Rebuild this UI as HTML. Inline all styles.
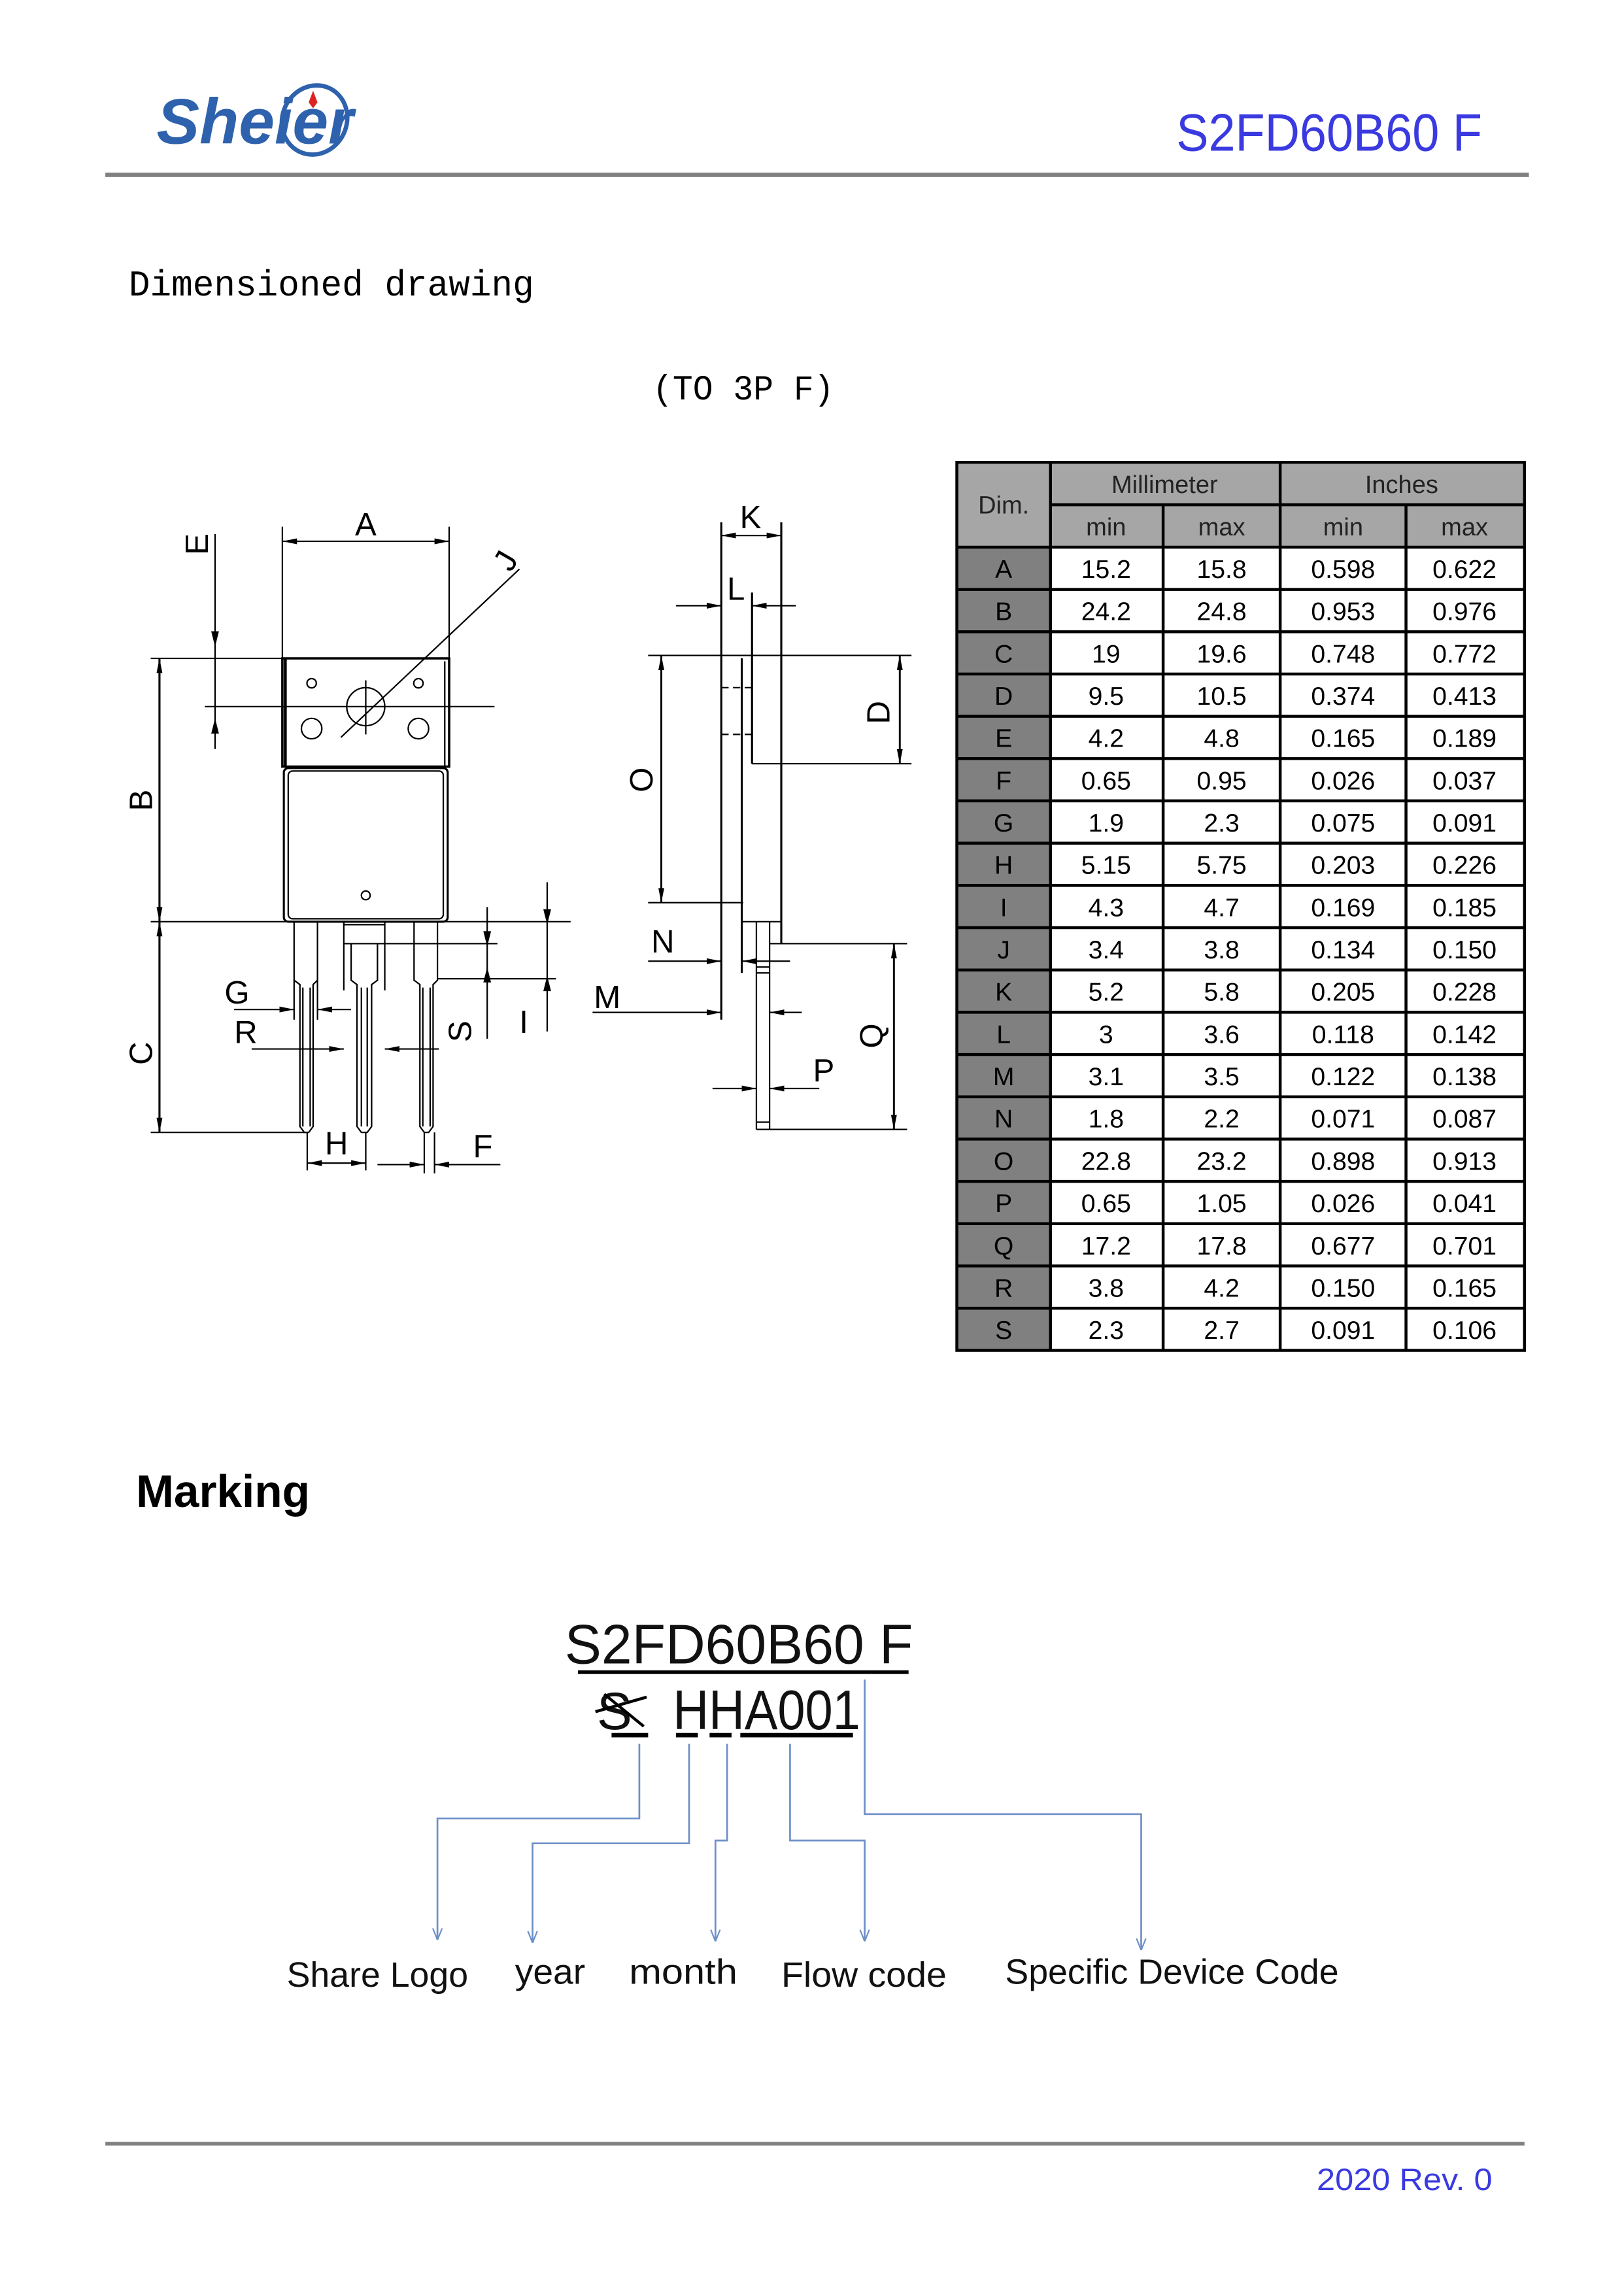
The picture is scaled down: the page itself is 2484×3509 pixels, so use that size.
<!DOCTYPE html>
<html><head><meta charset="utf-8"><style>
html,body{margin:0;padding:0;background:#fff}
svg{display:block}
</style></head><body>
<svg width="2484" height="3509" viewBox="0 0 1110 1568" xmlns="http://www.w3.org/2000/svg">
<defs>
<marker id="a" viewBox="0 0 10 6" refX="10" refY="3" markerWidth="10" markerHeight="6" markerUnits="userSpaceOnUse" orient="auto-start-reverse"><path d="M0,1 L10,3 L0,5 z" fill="#000"/></marker>
<marker id="b" viewBox="0 0 10 10" refX="10" refY="5" markerWidth="8" markerHeight="8" markerUnits="userSpaceOnUse" orient="auto"><path d="M0,1 L10,5 L0,9" fill="none" stroke="#6d8fc7" stroke-width="1.2"/></marker>
</defs>
<!-- header -->
<text x="107" y="98" font-family="Liberation Sans, sans-serif" font-weight="bold" font-style="italic" font-size="44" fill="#2e62ad">Sheier</text>
<ellipse cx="215" cy="82" rx="22" ry="24" fill="none" stroke="#2e62ad" stroke-width="3" transform="rotate(25 215 82)"/>
<path d="M214,62 l3,8 l-3,4 l-3,-4z" fill="#d22"/>
<text x="804" y="103" font-family="Liberation Sans, sans-serif" font-size="36" fill="#3a3ae0" textLength="209" lengthAdjust="spacingAndGlyphs">S2FD60B60 F</text>
<rect x="72" y="118" width="973" height="3" fill="#808080"/>
<text x="88" y="202" font-family="Liberation Mono, monospace" font-size="25" fill="#000" textLength="277" lengthAdjust="spacingAndGlyphs">Dimensioned drawing</text>
<text x="446" y="273" font-family="Liberation Mono, monospace" font-size="24" fill="#000" textLength="124" lengthAdjust="spacingAndGlyphs">(TO 3P F)</text>

<!-- left drawing -->
<g fill="none" stroke="#000" stroke-width="1" font-family="Liberation Sans, sans-serif">
<line x1="193" y1="360" x2="193" y2="450"/><line x1="307" y1="360" x2="307" y2="450"/>
<line x1="193" y1="370" x2="307" y2="370" marker-start="url(#a)" marker-end="url(#a)"/>
<rect x="193" y="450" width="114" height="74" stroke-width="1.6"/>
<line x1="195" y1="450" x2="195" y2="524" stroke-width="2"/>
<line x1="304" y1="452" x2="304" y2="524"/>
<rect x="194" y="525" width="112" height="105" rx="3" stroke-width="1.4"/>
<rect x="197" y="527" width="106" height="101" rx="3"/>
<circle cx="213" cy="467" r="3.2"/><circle cx="286" cy="467" r="3.2"/>
<circle cx="213" cy="498" r="7"/><circle cx="286" cy="498" r="7"/>
<circle cx="250" cy="483" r="13"/>
<line x1="250" y1="465" x2="250" y2="502"/>
<line x1="140" y1="483" x2="338" y2="483"/>
<line x1="233" y1="504" x2="355" y2="389"/>
<circle cx="250" cy="612" r="3"/>
<line x1="147" y1="365" x2="147" y2="512"/>
<path d="M147,440 l-2,-8 h4z M147,493 l-2,8 h4z" fill="#000"/>
<line x1="103" y1="450" x2="193" y2="450"/>
<line x1="109" y1="450" x2="109" y2="630" marker-start="url(#a)" marker-end="url(#a)" stroke-width="1.4"/>
<line x1="109" y1="630" x2="109" y2="774" marker-start="url(#a)" marker-end="url(#a)" stroke-width="1.4"/>
<line x1="103" y1="630" x2="390" y2="630"/>
<line x1="103" y1="774" x2="210" y2="774"/>
<path d="M201,630 V670 L205,673 V770 L208,774 H211 L214,770 V673 L217,670 V630"/>
<line x1="207" y1="675" x2="207" y2="770"/><line x1="212" y1="675" x2="212" y2="770"/>
<path d="M235,630 V677 M263,630 V677 M235,645 H263 M235,632 H263"/>
<path d="M240,645 V670 L244,673 V770 L247,774 H251 L254,770 V673 L258,670 V645"/>
<line x1="247" y1="675" x2="247" y2="770"/><line x1="251" y1="675" x2="251" y2="770"/>
<path d="M283,630 V670 L287,673 V770 L290,774 H293 L296,770 V673 L299,670 V630"/>
<line x1="289" y1="675" x2="289" y2="770"/><line x1="294" y1="675" x2="294" y2="770"/>
<path d="M263,645 H340 M299,669 H380"/>
<line x1="160" y1="690" x2="201" y2="690" marker-end="url(#a)"/>
<line x1="240" y1="690" x2="217" y2="690" marker-end="url(#a)"/>
<line x1="172" y1="717" x2="235" y2="717" marker-end="url(#a)"/>
<line x1="300" y1="717" x2="263" y2="717" marker-end="url(#a)"/>
<line x1="201" y1="670" x2="201" y2="697"/><line x1="217" y1="670" x2="217" y2="697"/>
<line x1="333" y1="620" x2="333" y2="710"/>
<path d="M333,645 l-2,-8 h4z M333,663 l-2,8 h4z" fill="#000"/>
<line x1="374" y1="603" x2="374" y2="705"/>
<path d="M374,630 l-2,-8 h4z M374,669 l-2,8 h4z" fill="#000"/>
<line x1="210" y1="774" x2="210" y2="800"/><line x1="250" y1="774" x2="250" y2="800"/>
<line x1="210" y1="795" x2="250" y2="795" marker-start="url(#a)" marker-end="url(#a)"/>
<line x1="258" y1="796" x2="290" y2="796" marker-end="url(#a)"/>
<line x1="342" y1="796" x2="297" y2="796" marker-end="url(#a)"/>
<line x1="290" y1="774" x2="290" y2="802"/><line x1="297" y1="774" x2="297" y2="802"/>
</g>
<g font-family="Liberation Sans, sans-serif" font-size="22" fill="#000">
<text x="250" y="366" text-anchor="middle">A</text>
<text x="0" y="0" transform="translate(142,372) rotate(-90)" text-anchor="middle">E</text>
<text x="0" y="0" transform="translate(104,547) rotate(-90)" text-anchor="middle">B</text>
<text x="0" y="0" transform="translate(104,720) rotate(-90)" text-anchor="middle">C</text>
<text x="0" y="0" transform="translate(352,387) rotate(-60)" text-anchor="middle">J</text>
<text x="162" y="686" text-anchor="middle">G</text>
<text x="168" y="713" text-anchor="middle">R</text>
<text x="0" y="0" transform="translate(322,705) rotate(-90)" text-anchor="middle">S</text>
<text x="358" y="706" text-anchor="middle">I</text>
<text x="230" y="789" text-anchor="middle">H</text>
<text x="330" y="791" text-anchor="middle">F</text>
</g>

<!-- right drawing -->
<g fill="none" stroke="#000" stroke-width="1">
<line x1="493" y1="357" x2="493" y2="697" stroke-width="1.4"/>
<line x1="534" y1="357" x2="534" y2="645" stroke-width="1.4"/>
<line x1="493" y1="366" x2="534" y2="366" marker-start="url(#a)" marker-end="url(#a)"/>
<line x1="462" y1="414" x2="493" y2="414" marker-end="url(#a)"/>
<line x1="544" y1="414" x2="514" y2="414" marker-end="url(#a)"/>
<line x1="514" y1="405" x2="514" y2="522" stroke-width="1.4"/>
<line x1="443" y1="448" x2="623" y2="448"/>
<line x1="514" y1="522" x2="623" y2="522"/>
<line x1="615" y1="448" x2="615" y2="522" marker-start="url(#a)" marker-end="url(#a)" stroke-width="1.3"/>
<line x1="507" y1="450" x2="507" y2="665" stroke-width="1.4"/>
<path d="M493,470 H514 M493,502 H514" stroke-dasharray="5,3"/>
<line x1="443" y1="617" x2="508" y2="617"/>
<line x1="452" y1="448" x2="452" y2="617" marker-start="url(#a)" marker-end="url(#a)" stroke-width="1.3"/>
<path d="M507,630 H534 M517,630 V772 M526,630 V772 M517,772 H526"/>
<path d="M517,661 H526 M517,665 H526 M517,767 H526"/>
<line x1="443" y1="657" x2="493" y2="657" marker-end="url(#a)"/>
<line x1="540" y1="657" x2="507" y2="657" marker-end="url(#a)"/>
<line x1="405" y1="692" x2="493" y2="692" marker-end="url(#a)"/>
<line x1="548" y1="692" x2="526" y2="692" marker-end="url(#a)"/>
<line x1="526" y1="645" x2="620" y2="645"/>
<line x1="526" y1="772" x2="620" y2="772"/>
<line x1="611" y1="645" x2="611" y2="772" marker-start="url(#a)" marker-end="url(#a)" stroke-width="1.3"/>
<line x1="487" y1="744" x2="517" y2="744" marker-end="url(#a)"/>
<line x1="560" y1="744" x2="526" y2="744" marker-end="url(#a)"/>
</g>
<g font-family="Liberation Sans, sans-serif" font-size="22" fill="#000">
<text x="513" y="361" text-anchor="middle">K</text>
<text x="503" y="410" text-anchor="middle">L</text>
<text x="0" y="0" transform="translate(608,487) rotate(-90)" text-anchor="middle">D</text>
<text x="0" y="0" transform="translate(446,533) rotate(-90)" text-anchor="middle">O</text>
<text x="453" y="651" text-anchor="middle">N</text>
<text x="415" y="689" text-anchor="middle">M</text>
<text x="0" y="0" transform="translate(603,708) rotate(-90)" text-anchor="middle">Q</text>
<text x="563" y="739" text-anchor="middle">P</text>
</g>

<!-- table -->
<g stroke="none">
<rect x="654" y="316" width="388" height="58" fill="#a6a6a6"/>
<rect x="654" y="374" width="64" height="549" fill="#808080"/>
</g>
<g stroke="#000" stroke-width="2" fill="none">
<rect x="654" y="316" width="388" height="607"/>
<line x1="718" y1="316" x2="718" y2="923"/>
<line x1="795" y1="345" x2="795" y2="923"/>
<line x1="875" y1="316" x2="875" y2="923"/>
<line x1="961" y1="345" x2="961" y2="923"/>
<line x1="718" y1="345" x2="1042" y2="345"/>
<line x1="654" y1="374" x2="1042" y2="374"/>
<line x1="654" y1="402.9" x2="1042" y2="402.9"/>
<line x1="654" y1="431.8" x2="1042" y2="431.8"/>
<line x1="654" y1="460.7" x2="1042" y2="460.7"/>
<line x1="654" y1="489.6" x2="1042" y2="489.6"/>
<line x1="654" y1="518.5" x2="1042" y2="518.5"/>
<line x1="654" y1="547.4" x2="1042" y2="547.4"/>
<line x1="654" y1="576.3" x2="1042" y2="576.3"/>
<line x1="654" y1="605.2" x2="1042" y2="605.2"/>
<line x1="654" y1="634.1" x2="1042" y2="634.1"/>
<line x1="654" y1="663" x2="1042" y2="663"/>
<line x1="654" y1="691.9" x2="1042" y2="691.9"/>
<line x1="654" y1="720.8" x2="1042" y2="720.8"/>
<line x1="654" y1="749.7" x2="1042" y2="749.7"/>
<line x1="654" y1="778.6" x2="1042" y2="778.6"/>
<line x1="654" y1="807.5" x2="1042" y2="807.5"/>
<line x1="654" y1="836.4" x2="1042" y2="836.4"/>
<line x1="654" y1="865.3" x2="1042" y2="865.3"/>
<line x1="654" y1="894.2" x2="1042" y2="894.2"/>
</g>
<g font-family="Liberation Sans, sans-serif" font-size="17" fill="#222" text-anchor="middle">
<text x="686" y="351">Dim.</text>
<text x="796" y="337">Millimeter</text><text x="958" y="337">Inches</text>
<text x="756" y="366">min</text><text x="835" y="366">max</text><text x="918" y="366">min</text><text x="1001" y="366">max</text>
</g>
<g font-family="Liberation Sans, sans-serif" font-size="17.5" fill="#000" text-anchor="middle">
<g transform="translate(0,395)"><text x="686">A</text><text x="756">15.2</text><text x="835">15.8</text><text x="918">0.598</text><text x="1001">0.622</text></g>
<g transform="translate(0,423.9)"><text x="686">B</text><text x="756">24.2</text><text x="835">24.8</text><text x="918">0.953</text><text x="1001">0.976</text></g>
<g transform="translate(0,452.8)"><text x="686">C</text><text x="756">19</text><text x="835">19.6</text><text x="918">0.748</text><text x="1001">0.772</text></g>
<g transform="translate(0,481.7)"><text x="686">D</text><text x="756">9.5</text><text x="835">10.5</text><text x="918">0.374</text><text x="1001">0.413</text></g>
<g transform="translate(0,510.6)"><text x="686">E</text><text x="756">4.2</text><text x="835">4.8</text><text x="918">0.165</text><text x="1001">0.189</text></g>
<g transform="translate(0,539.5)"><text x="686">F</text><text x="756">0.65</text><text x="835">0.95</text><text x="918">0.026</text><text x="1001">0.037</text></g>
<g transform="translate(0,568.4)"><text x="686">G</text><text x="756">1.9</text><text x="835">2.3</text><text x="918">0.075</text><text x="1001">0.091</text></g>
<g transform="translate(0,597.3)"><text x="686">H</text><text x="756">5.15</text><text x="835">5.75</text><text x="918">0.203</text><text x="1001">0.226</text></g>
<g transform="translate(0,626.2)"><text x="686">I</text><text x="756">4.3</text><text x="835">4.7</text><text x="918">0.169</text><text x="1001">0.185</text></g>
<g transform="translate(0,655.1)"><text x="686">J</text><text x="756">3.4</text><text x="835">3.8</text><text x="918">0.134</text><text x="1001">0.150</text></g>
<g transform="translate(0,684)"><text x="686">K</text><text x="756">5.2</text><text x="835">5.8</text><text x="918">0.205</text><text x="1001">0.228</text></g>
<g transform="translate(0,712.9)"><text x="686">L</text><text x="756">3</text><text x="835">3.6</text><text x="918">0.118</text><text x="1001">0.142</text></g>
<g transform="translate(0,741.8)"><text x="686">M</text><text x="756">3.1</text><text x="835">3.5</text><text x="918">0.122</text><text x="1001">0.138</text></g>
<g transform="translate(0,770.7)"><text x="686">N</text><text x="756">1.8</text><text x="835">2.2</text><text x="918">0.071</text><text x="1001">0.087</text></g>
<g transform="translate(0,799.6)"><text x="686">O</text><text x="756">22.8</text><text x="835">23.2</text><text x="918">0.898</text><text x="1001">0.913</text></g>
<g transform="translate(0,828.5)"><text x="686">P</text><text x="756">0.65</text><text x="835">1.05</text><text x="918">0.026</text><text x="1001">0.041</text></g>
<g transform="translate(0,857.4)"><text x="686">Q</text><text x="756">17.2</text><text x="835">17.8</text><text x="918">0.677</text><text x="1001">0.701</text></g>
<g transform="translate(0,886.3)"><text x="686">R</text><text x="756">3.8</text><text x="835">4.2</text><text x="918">0.150</text><text x="1001">0.165</text></g>
<g transform="translate(0,915.2)"><text x="686">S</text><text x="756">2.3</text><text x="835">2.7</text><text x="918">0.091</text><text x="1001">0.106</text></g>
</g>

<!-- marking -->
<text x="93" y="1030" font-family="Liberation Sans, sans-serif" font-weight="bold" font-size="31" fill="#000">Marking</text>
<text x="386" y="1137" font-family="Liberation Sans, sans-serif" font-size="38" fill="#111" textLength="238" lengthAdjust="spacingAndGlyphs">S2FD60B60  F</text>
<line x1="395" y1="1143" x2="621" y2="1143" stroke="#000" stroke-width="2.5"/>
<text x="408" y="1182" font-family="Liberation Sans, sans-serif" font-size="36" fill="#111">S</text>
<line x1="407" y1="1170" x2="442" y2="1160" stroke="#000" stroke-width="2"/>
<line x1="413" y1="1158" x2="440" y2="1180" stroke="#000" stroke-width="2"/>
<text x="460" y="1182" font-family="Liberation Sans, sans-serif" font-size="38" fill="#111" textLength="128" lengthAdjust="spacingAndGlyphs">HHA001</text>
<g stroke="#000" stroke-width="3">
<line x1="418" y1="1186" x2="443" y2="1186"/><line x1="462" y1="1186" x2="477" y2="1186"/>
<line x1="485" y1="1186" x2="500" y2="1186"/><line x1="506" y1="1186" x2="583" y2="1186"/>
</g>
<g fill="none" stroke="#6d8fc7" stroke-width="1.2">
<path d="M437,1192 V1243 H299 V1326" marker-end="url(#b)"/>
<path d="M471,1192 V1260 H364 V1328" marker-end="url(#b)"/>
<path d="M497,1192 V1258 H489 V1327" marker-end="url(#b)"/>
<path d="M540,1192 V1258 H591 V1327" marker-end="url(#b)"/>
<path d="M591,1148 V1240 H780 V1333" marker-end="url(#b)"/>
</g>
<g font-family="Liberation Sans, sans-serif" font-size="24" fill="#111">
<text x="196" y="1358" textLength="124" lengthAdjust="spacingAndGlyphs">Share Logo</text>
<text x="352" y="1356" textLength="48" lengthAdjust="spacingAndGlyphs">year</text>
<text x="430" y="1356" textLength="74" lengthAdjust="spacingAndGlyphs">month</text>
<text x="534" y="1358" textLength="113" lengthAdjust="spacingAndGlyphs">Flow code</text>
<text x="687" y="1356" textLength="228" lengthAdjust="spacingAndGlyphs">Specific Device Code</text>
</g>
<rect x="72" y="1464" width="970" height="2.5" fill="#808080"/>
<text x="900" y="1497" font-family="Liberation Sans, sans-serif" font-size="21" fill="#3a3ae0" textLength="120" lengthAdjust="spacingAndGlyphs">2020  Rev. 0</text>
</svg>
</body></html>
